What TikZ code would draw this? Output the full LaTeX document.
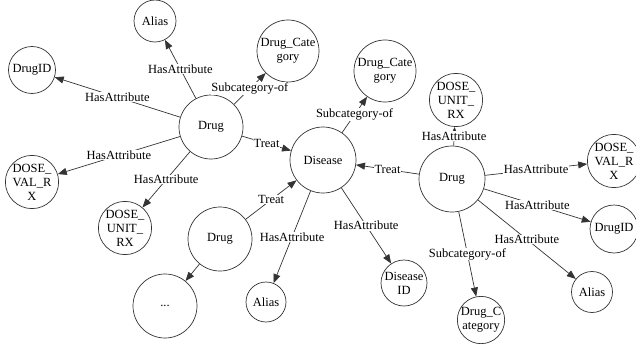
\documentclass[tikz,border=0pt]{standalone}
\usepackage{fontspec}
\setmainfont{Liberation Serif}
\newfontfamily\kgfont{Liberation Serif}
\usetikzlibrary{arrows.meta}

\tikzset{
  ent/.style={circle, draw=black!80, line width=0.7pt, inner sep=0pt, align=center,
    font=\kgfont\fontsize{12.5}{14}\selectfont},
  rel/.style={-{Triangle[length=9pt,width=7pt]}, draw=black!80, line width=0.7pt},
  lbl/.style={fill=white, inner sep=0.5pt, font=\kgfont\fontsize{12.5}{14}\selectfont},
}

\begin{document}
\begin{tikzpicture}[x=1pt, y=-1pt]

    \useasboundingbox (0,0) rectangle (636,345);

    % first drug
    \node[ent, minimum size=64pt] (drugA) at (211,127) {Drug};
    \node[ent, minimum size=42pt] (aliasA) at (155,21) {Alias};
    \node[ent, minimum size=62pt] (catA) at (288,51) {Drug\_Cate\\gory};
    \node[ent, minimum size=47pt] (idA) at (32,70) {DrugID};
    \node[ent, minimum size=48pt] (valA) at (32,182) {DOSE\_\\VAL\_R\\X};
    \node[ent, minimum size=45pt] (unitA) at (125,228) {DOSE\_\\UNIT\_\\RX};

    % ----------

    \node[ent, minimum size=66pt] (disease) at (323,160) {Disease};
    \node[ent, minimum size=62pt] (catB) at (385,71) {Drug\_Cate\\gory};
    \node[ent, minimum size=40pt] (aliasB) at (266,302) {Alias};
    \node[ent, minimum size=46pt] (diseaseID) at (404,283) {Disease\\ID};

    % ----------

    \node[ent, minimum size=64pt] (drugB) at (220,239) {Drug};
    \node[ent, minimum size=64pt] (more) at (165,306) {...};

    % ----------

    \node[ent, minimum size=66pt] (drugC) at (452,179) {Drug};
    \node[ent, minimum size=40pt] (unitB) at (456,100) {DOSE\_\\UNIT\_\\RX};
    \node[ent, minimum size=46pt] (valB) at (614,161) {DOSE\_\\VAL\_R\\X};
    \node[ent, minimum size=48pt] (idB) at (614,229) {DrugID};
    \node[ent, minimum size=41pt] (aliasC) at (592,292) {Alias};
    \node[ent, minimum size=45pt] (catC) at (481,320) {Drug\_C\\ategory};

    % edges
    \draw[rel] (drugA) -- node[lbl] {HasAttribute} (aliasA);
    \draw[rel] (drugA) -- node[lbl] {Subcategory-of} (catA);
    \draw[rel] (drugA) -- node[lbl] {HasAttribute} (idA);
    \draw[rel] (drugA) -- node[lbl] {HasAttribute} (valA);
    \draw[rel] (drugA) -- node[lbl] {HasAttribute} (unitA);
    \draw[rel] (drugA) -- node[lbl] {Treat} (disease);

    \draw[rel] (drugB) -- node[lbl] {Treat} (disease);
    \draw[rel] (drugB) -- (more);

    \draw[rel] (disease) -- node[lbl] {Subcategory-of} (catB);
    \draw[rel] (disease) -- node[lbl] {HasAttribute} (aliasB);
    \draw[rel] (disease) -- node[lbl] {HasAttribute} (diseaseID);

    \draw[rel] (drugC) -- node[lbl] {Treat} (disease);
    \draw[rel] (drugC) -- node[lbl] {HasAttribute} (unitB);
    \draw[rel] (drugC) -- node[lbl] {HasAttribute} (valB);
    \draw[rel] (drugC) -- node[lbl] {HasAttribute} (idB);
    \draw[rel] (drugC) -- node[lbl] {HasAttribute} (aliasC);
    \draw[rel] (drugC) -- node[lbl] {Subcategory-of} (catC);

\end{tikzpicture}
\end{document}
